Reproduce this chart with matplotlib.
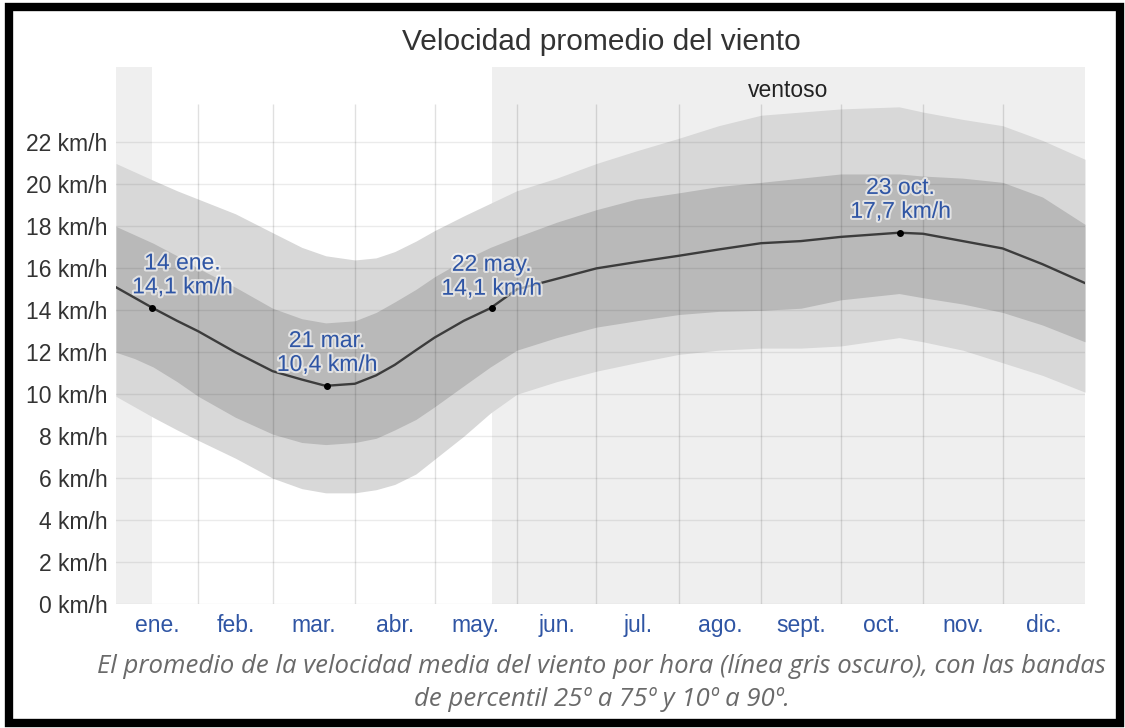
import matplotlib.pyplot as plt
import matplotlib.patheffects as pe
from matplotlib.patches import Rectangle

# día del año (1 = 1 ene.)
dias = [1, 8, 15, 24, 32, 46, 60, 71, 80, 91, 99, 106, 114, 121, 132, 142, 152, 167, 182,
        197, 213, 228, 244, 259, 274, 296, 305, 320, 335, 350, 366]
promedio = [15.1, 14.6, 14.1, 13.5, 13.0, 12.0, 11.1, 10.7, 10.4, 10.5, 10.9, 11.4, 12.1, 12.7, 13.5,
            14.1, 15.0, 15.5, 16.0, 16.3, 16.6, 16.9, 17.2, 17.3, 17.5, 17.7, 17.65, 17.3, 16.95,
            16.2, 15.3]
p90 = [21.0, 20.6, 20.2, 19.7, 19.3, 18.6, 17.7, 17.0, 16.6, 16.4, 16.5, 16.8, 17.3, 17.8, 18.5,
       19.1, 19.7, 20.3, 21.0, 21.6, 22.2, 22.8, 23.3, 23.45, 23.6, 23.7, 23.45, 23.1, 22.8,
       22.1, 21.2]
p75 = [18.0, 17.6, 17.2, 16.6, 16.0, 15.1, 14.1, 13.6, 13.4, 13.5, 13.9, 14.4, 15.0, 15.6, 16.4,
       17.0, 17.5, 18.2, 18.8, 19.3, 19.6, 19.9, 20.1, 20.3, 20.5, 20.5, 20.4, 20.3, 20.1,
       19.4, 18.1]
p25 = [12.0, 11.7, 11.3, 10.6, 9.9, 8.9, 8.1, 7.7, 7.6, 7.7, 7.9, 8.3, 8.8, 9.4, 10.4,
       11.3, 12.1, 12.7, 13.2, 13.5, 13.8, 13.95, 14.0, 14.1, 14.5, 14.8, 14.6, 14.3, 13.9,
       13.3, 12.5]
p10 = [9.9, 9.4, 8.9, 8.3, 7.8, 6.95, 6.0, 5.5, 5.3, 5.3, 5.45, 5.7, 6.2, 6.9, 8.0,
       9.1, 10.0, 10.6, 11.1, 11.5, 11.9, 12.1, 12.2, 12.2, 12.3, 12.7, 12.5, 12.1, 11.5,
       10.9, 10.1]

meses = ['ene.', 'feb.', 'mar.', 'abr.', 'may.', 'jun.', 'jul.', 'ago.', 'sept.', 'oct.', 'nov.', 'dic.']
dias_mes = [31, 28, 31, 30, 31, 30, 31, 31, 30, 31, 30, 31]

# puntos destacados
ptos_dia = [14, 80, 142, 296]
ptos_val = [14.1, 10.4, 14.1, 17.7]
ptos_txt = ['14 ene.', '21 mar.', '22 may.', '23 oct.']

# temporada ventosa: 22 may. -> 14 ene.
ventoso_ini = 142
ventoso_fin = 14

x = [d - 1 for d in dias]
px = [d - 0.5 for d in ptos_dia]

inicio_mes = [sum(dias_mes[:i]) for i in range(12)]
centro_mes = [inicio_mes[i] + dias_mes[i] / 2 for i in range(12)]

azul = '#2f55a4'
plt.rcParams['font.family'] = ['Liberation Sans', 'DejaVu Sans']

fig = plt.figure(figsize=(11.25, 7.28), dpi=100)
ax = fig.add_axes([0.1031, 0.1703, 0.8613, 0.7377])
ax.set_xlim(0, 365)
ax.set_ylim(0, 25.6)

# zonas de temporada
ax.axvspan(0, ventoso_fin - 0.5, color='#efefef', lw=0, zorder=0)
ax.axvspan(ventoso_ini - 0.5, 365, color='#efefef', lw=0, zorder=0)
ax.text((ventoso_ini - 0.5 + 365) / 2, 24.5, 'ventoso', ha='center', va='center',
        fontsize=16.5, color='#222222')

# bandas de percentil
ax.fill_between(x, p10, p90, color='#d8d8d8', lw=0, zorder=1)
ax.fill_between(x, p25, p75, color='#b9b9b9', lw=0, zorder=2)

# rejilla
for v in range(0, 24, 2):
    ax.axhline(v, color='black', alpha=0.08, lw=1, zorder=3)
ax.vlines(inicio_mes[1:], 0, 23.85, color='black', alpha=0.12, lw=1, zorder=3)

ax.plot(x, promedio, color='#3c3c3c', lw=1.7, zorder=4)
ax.scatter(px, ptos_val, s=16, color='black', zorder=5)

offs = [(22, 24), (0, 24), (0, 23), (0, 24)]
for d, v, t, o in zip(px, ptos_val, ptos_txt, offs):
    etiqueta = t + '\n' + ('%.1f' % v).replace('.', ',') + ' km/h'
    ax.annotate(etiqueta, (d, v), xytext=o, textcoords='offset points',
                ha='center', va='center', fontsize=16.5, color=azul, linespacing=1.05,
                zorder=6,
                path_effects=[pe.withStroke(linewidth=3, foreground='white', alpha=0.6)])

for s in ax.spines.values():
    s.set_visible(False)
ax.set_yticks(range(0, 24, 2))
ax.set_yticklabels(['%d km/h' % v for v in range(0, 24, 2)])
ax.set_xticks(centro_mes)
ax.set_xticklabels(meses)
ax.tick_params(axis='y', length=0, pad=6, labelsize=16.5, labelcolor='#333333')
ax.tick_params(axis='x', length=0, pad=7, labelsize=16.5, labelcolor=azul)

fig.text(0.535, 1 - 42 / 728, 'Velocidad promedio del viento', ha='center', va='center',
         fontsize=21.5, color='#333333')

fig.text(0.535, 1 - 683 / 728,
         'El promedio de la velocidad media del viento por hora (línea gris oscuro), con las bandas\n'
         'de percentil 25º a 75º y 10º a 90º.',
         ha='center', va='center', fontsize=18.5, color='#6a6a6a', style='italic',
         family=['Open Sans', 'DejaVu Sans'], linespacing=1.42)

# marco negro
fig.patches.append(Rectangle((9 / 1125, 5 / 728), 1111 / 1125, 716 / 728,
                             transform=fig.transFigure, fill=False, ec='black', lw=6))

fig.savefig('out.png', dpi=100)
